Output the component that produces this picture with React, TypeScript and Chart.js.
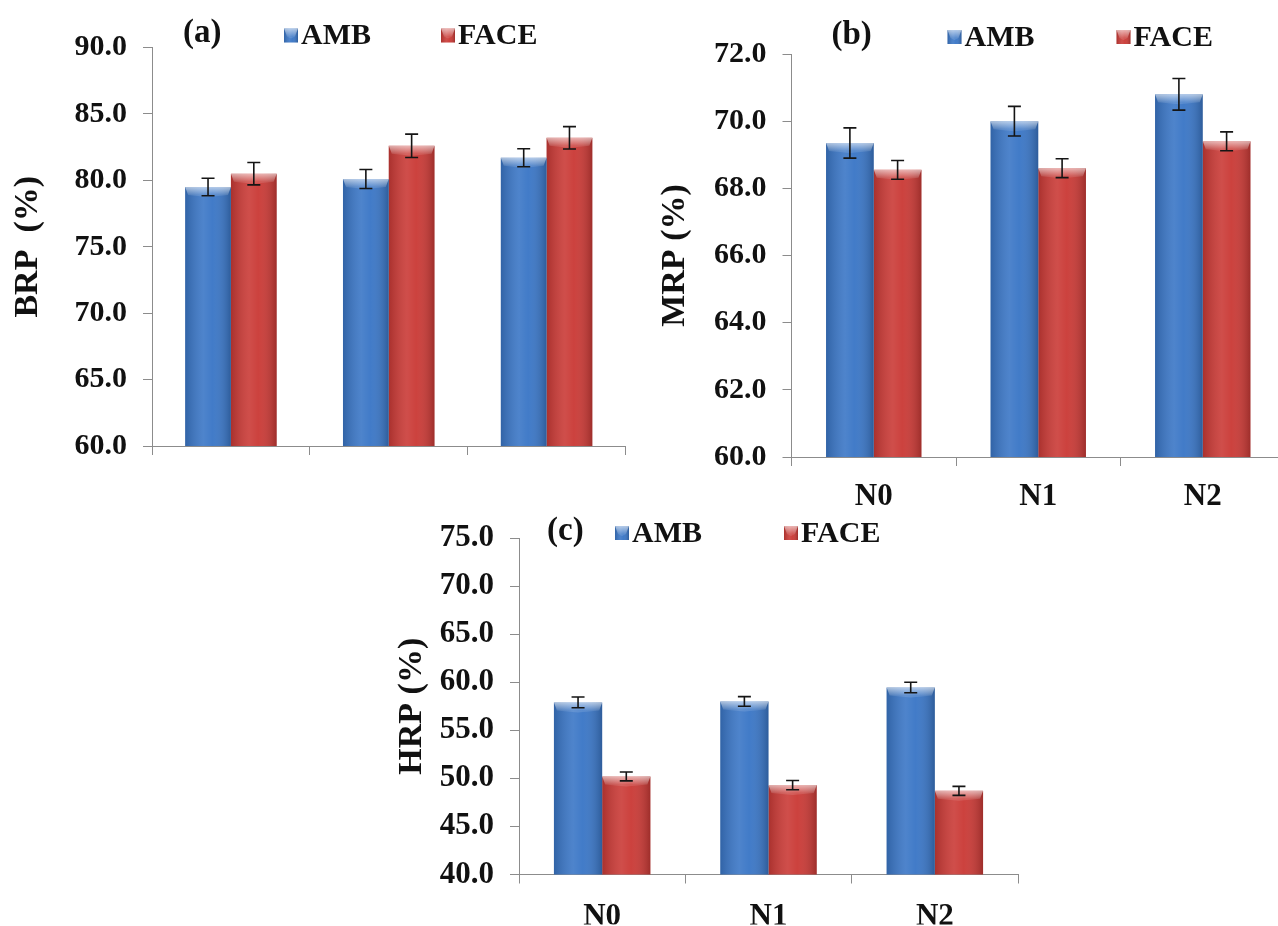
import React, { useEffect, useRef } from "react";
import { Chart, registerables } from "chart.js";

Chart.register(...registerables);

// ---------------- data ----------------
const CATEGORIES = ["N0", "N1", "N2"];
const SERIES_NAMES = ["AMB", "FACE"];

const BRP_AMB = [79.5, 80.1, 81.7];
const BRP_FACE = [80.5, 82.6, 83.2];
const BRP_AMB_ERR = [0.66, 0.72, 0.68];
const BRP_FACE_ERR = [0.84, 0.88, 0.84];

const MRP_AMB = [69.35, 70.0, 70.8];
const MRP_FACE = [68.55, 68.6, 69.4];
const MRP_AMB_ERR = [0.45, 0.44, 0.47];
const MRP_FACE_ERR = [0.28, 0.28, 0.28];

const HRP_AMB = [57.9, 58.0, 59.45];
const HRP_FACE = [50.2, 49.3, 48.7];
const HRP_AMB_ERR = [0.56, 0.5, 0.55];
const HRP_FACE_ERR = [0.46, 0.48, 0.47];

const BRP_TICKS = { min: 60, max: 90, step: 5 };
const MRP_TICKS = { min: 60, max: 72, step: 2 };
const HRP_TICKS = { min: 40, max: 75, step: 5 };

// ---------------- style ----------------
const FONT = "'Times New Roman', 'Liberation Serif', serif";
const BLUE = "rgb(58,118,198)";
const RED = "rgb(202,58,54)";
const AXIS = "rgb(140,140,140)";
const TEXT = "#111111";

type Panel = {
  tag: string;
  yTitle: string;
  amb: number[];
  face: number[];
  ambErr: number[];
  faceErr: number[];
  ticks: { min: number; max: number; step: number };
  showX: boolean;
  box: { left: number; top: number; width: number; height: number };
  area: { left: number; top: number; right: number; bottom: number };
  xHeight: number;
  xPad: number;
  tickSize: number;
  titlePad: number;
  legend: { tagX: number; ambX: number; faceX: number; dy: number };
};

const PANELS: Panel[] = [
  {
    tag: "(a)",
    yTitle: "BRP  (%)",
    amb: BRP_AMB,
    face: BRP_FACE,
    ambErr: BRP_AMB_ERR,
    faceErr: BRP_FACE_ERR,
    ticks: BRP_TICKS,
    showX: false,
    box: { left: 0, top: 0, width: 660, height: 480 },
    area: { left: 152, top: 47.5, right: 625.5, bottom: 451 },
    xHeight: 20,
    xPad: 10,
    tickSize: 30,
    titlePad: 8,
    legend: { tagX: 31, ambX: 132, faceX: 289, dy: -12 },
  },
  {
    tag: "(b)",
    yTitle: "MRP (%)",
    amb: MRP_AMB,
    face: MRP_FACE,
    ambErr: MRP_AMB_ERR,
    faceErr: MRP_FACE_ERR,
    ticks: MRP_TICKS,
    showX: true,
    box: { left: 640, top: 0, width: 660, height: 520 },
    area: { left: 151.5, top: 54, right: 645, bottom: 457 },
    xHeight: 60,
    xPad: 12,
    tickSize: 30,
    titlePad: 15,
    legend: { tagX: 40, ambX: 156, faceX: 325, dy: -17 },
  },
  {
    tag: "(c)",
    yTitle: "HRP (%)",
    amb: HRP_AMB,
    face: HRP_FACE,
    ambErr: HRP_AMB_ERR,
    faceErr: HRP_FACE_ERR,
    ticks: HRP_TICKS,
    showX: true,
    box: { left: 380, top: 480, width: 660, height: 446 },
    area: { left: 139, top: 58, right: 638, bottom: 394.5 },
    xHeight: 50,
    xPad: 15,
    tickSize: 31,
    titlePad: 12,
    legend: { tagX: 28, ambX: 96, faceX: 265, dy: -5 },
  },
];

function shadeBar(ctx: CanvasRenderingContext2D, l: number, top: number, w: number, h: number) {
  if (h <= 0) return;
  const g = ctx.createLinearGradient(l, 0, l + w, 0);
  g.addColorStop(0, "rgba(0,0,0,0.16)");
  g.addColorStop(0.4, "rgba(255,255,255,0.10)");
  g.addColorStop(0.6, "rgba(255,255,255,0.04)");
  g.addColorStop(1, "rgba(0,0,0,0.22)");
  ctx.fillStyle = g;
  ctx.fillRect(l, top, w, h);
  const bh = Math.min(8, h);
  const g2 = ctx.createLinearGradient(0, top, 0, top + bh);
  g2.addColorStop(0, "rgba(255,255,255,0.6)");
  g2.addColorStop(1, "rgba(255,255,255,0.12)");
  ctx.beginPath();
  ctx.moveTo(l, top);
  ctx.lineTo(l + w, top);
  ctx.lineTo(l + w - 3, top + bh);
  ctx.lineTo(l + w / 2, top + bh + 2);
  ctx.lineTo(l + 3, top + bh);
  ctx.closePath();
  ctx.fillStyle = g2;
  ctx.fill();
}

const decorPlugin = {
  id: "decor",
  afterDatasetsDraw(chart: any) {
    const ctx: CanvasRenderingContext2D = chart.ctx;
    const yScale = chart.scales.y;
    const area = chart.chartArea;
    ctx.save();
    chart.data.datasets.forEach((ds: any, di: number) => {
      const meta = chart.getDatasetMeta(di);
      meta.data.forEach((bar: any, i: number) => {
        const { x, y, base, width } = bar.getProps(["x", "y", "base", "width"], true);
        const l = x - width / 2;
        const bottom = Math.min(base, area.bottom);
        shadeBar(ctx, l, y, width, bottom - y);
        const v = ds.data[i];
        const e = ds.errors[i];
        const yt = yScale.getPixelForValue(v + e);
        const yb = yScale.getPixelForValue(v - e);
        ctx.strokeStyle = "#151515";
        ctx.lineWidth = 1.6;
        ctx.beginPath();
        ctx.moveTo(x, yt);
        ctx.lineTo(x, yb);
        ctx.moveTo(x - 6.5, yt);
        ctx.lineTo(x + 6.5, yt);
        ctx.moveTo(x - 6.5, yb);
        ctx.lineTo(x + 6.5, yb);
        ctx.stroke();
      });
    });
    ctx.restore();
  },
  afterDraw(chart: any, _args: any, opts: any) {
    const ctx: CanvasRenderingContext2D = chart.ctx;
    const a = chart.chartArea;
    const cy = a.top + opts.dy;
    ctx.save();
    ctx.fillStyle = TEXT;
    ctx.textBaseline = "middle";
    ctx.textAlign = "left";
    ctx.font = `bold 33px ${FONT}`;
    ctx.fillText(opts.tag, a.left + opts.tagX, cy - 2);
    ctx.font = `bold 30px ${FONT}`;
    const items = [
      { name: opts.names[0], color: BLUE, x: a.left + opts.ambX },
      { name: opts.names[1], color: RED, x: a.left + opts.faceX },
    ];
    items.forEach((it) => {
      const s = 14;
      ctx.fillStyle = it.color;
      ctx.fillRect(it.x, cy - s / 2, s, s);
      shadeBar(ctx, it.x, cy - s / 2, s, s);
      ctx.fillStyle = TEXT;
      ctx.fillText(it.name, it.x + s + 3, cy + 1);
    });
    ctx.restore();
  },
};

function PanelChart({ p }: { p: Panel }) {
  const ref = useRef<HTMLCanvasElement | null>(null);
  useEffect(() => {
    if (!ref.current) return;
    const chart = new Chart(ref.current, {
      type: "bar",
      data: {
        labels: CATEGORIES,
        datasets: [
          {
            label: SERIES_NAMES[0],
            data: p.amb,
            errors: p.ambErr,
            backgroundColor: BLUE,
            borderWidth: 0,
            categoryPercentage: 0.58,
            barPercentage: 1.0,
          } as any,
          {
            label: SERIES_NAMES[1],
            data: p.face,
            errors: p.faceErr,
            backgroundColor: RED,
            borderWidth: 0,
            categoryPercentage: 0.58,
            barPercentage: 1.0,
          } as any,
        ],
      },
      options: {
        responsive: false,
        animation: false,
        devicePixelRatio: 1,
        layout: {
          padding: {
            left: 0,
            top: p.area.top,
            right: p.box.width - p.area.right,
            bottom: p.box.height - p.area.bottom - p.xHeight,
          },
        },
        plugins: {
          legend: { display: false },
          tooltip: { enabled: false },
          decor: {
            tag: p.tag,
            names: SERIES_NAMES,
            tagX: p.legend.tagX,
            ambX: p.legend.ambX,
            faceX: p.legend.faceX,
            dy: p.legend.dy,
          },
        } as any,
        scales: {
          x: {
            type: "category",
            offset: true,
            grid: {
              display: true,
              offset: true,
              drawOnChartArea: false,
              drawTicks: true,
              tickLength: 9,
              color: AXIS,
              lineWidth: 1,
            },
            border: { display: true, color: AXIS, width: 1 },
            ticks: {
              color: TEXT,
              padding: p.xPad,
              font: { family: FONT, size: 31, weight: "bold" },
              maxRotation: 0,
              autoSkip: false,
              callback: function (this: any, v: any) {
                return p.showX ? CATEGORIES[v as number] : "";
              },
            },
            afterFit: (s: any) => {
              s.height = p.xHeight;
            },
          },
          y: {
            type: "linear",
            min: p.ticks.min,
            max: p.ticks.max,
            grid: {
              display: true,
              drawOnChartArea: false,
              drawTicks: true,
              tickLength: 9,
              color: AXIS,
              lineWidth: 1,
            },
            border: { display: true, color: AXIS, width: 1 },
            ticks: {
              stepSize: p.ticks.step,
              color: TEXT,
              padding: 16,
              font: { family: FONT, size: p.tickSize, weight: "bold" },
              callback: (v: any) => Number(v).toFixed(1),
            },
            title: {
              display: true,
              text: p.yTitle,
              color: TEXT,
              font: { family: FONT, size: 34, weight: "bold" },
              padding: { top: p.titlePad, bottom: 0 },
            },
            afterFit: (s: any) => {
              s.width = p.area.left;
            },
          },
        },
      } as any,
      plugins: [decorPlugin as any],
    });
    return () => chart.destroy();
  }, [p]);
  return (
    <div
      style={{
        position: "absolute",
        left: p.box.left,
        top: p.box.top,
        width: p.box.width,
        height: p.box.height,
      }}
    >
      <canvas ref={ref} width={p.box.width} height={p.box.height} />
    </div>
  );
}

export default function App() {
  return (
    <div
      style={{
        position: "absolute",
        left: 0,
        top: 0,
        width: 1278,
        height: 926,
        overflow: "hidden",
        background: "#ffffff",
      }}
    >
      {PANELS.map((p) => (
        <PanelChart key={p.tag} p={p} />
      ))}
    </div>
  );
}
